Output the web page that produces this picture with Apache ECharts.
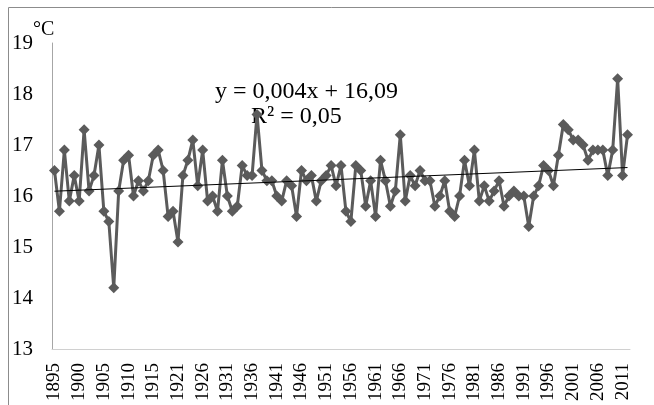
<!DOCTYPE html>
<html>
<head>
<meta charset="utf-8">
<style>
  html, body { margin: 0; padding: 0; background: #fff; }
  #chart { width: 654px; height: 405px; }
</style>
<script src="https://cdn.jsdelivr.net/npm/echarts@6/dist/echarts.min.js"></script>
</head>
<body>
<div id="chart"></div>
<script>
// one year (1916) is missing from the record
const years = [
  '1895', '1896', '1897', '1898', '1899', '1900', '1901', '1902', '1903', '1904',
  '1905', '1906', '1907', '1908', '1909', '1910', '1911', '1912', '1913', '1914',
  '1915', '1917', '1918', '1919', '1920', '1921', '1922', '1923', '1924', '1925',
  '1926', '1927', '1928', '1929', '1930', '1931', '1932', '1933', '1934', '1935',
  '1936', '1937', '1938', '1939', '1940', '1941', '1942', '1943', '1944', '1945',
  '1946', '1947', '1948', '1949', '1950', '1951', '1952', '1953', '1954', '1955',
  '1956', '1957', '1958', '1959', '1960', '1961', '1962', '1963', '1964', '1965',
  '1966', '1967', '1968', '1969', '1970', '1971', '1972', '1973', '1974', '1975',
  '1976', '1977', '1978', '1979', '1980', '1981', '1982', '1983', '1984', '1985',
  '1986', '1987', '1988', '1989', '1990', '1991', '1992', '1993', '1994', '1995',
  '1996', '1997', '1998', '1999', '2000', '2001', '2002', '2003', '2004', '2005',
  '2006', '2007', '2008', '2009', '2010', '2011', '2012'
];

const temps = [
  16.5, 15.7, 16.9, 15.9, 16.4, 15.9, 17.3, 16.1, 16.4, 17.0,
  15.7, 15.5, 14.2, 16.1, 16.7, 16.8, 16.0, 16.3, 16.1, 16.3,
  16.8, 16.9, 16.5, 15.6, 15.7, 15.1, 16.4, 16.7, 17.1, 16.2,
  16.9, 15.9, 16.0, 15.7, 16.7, 16.0, 15.7, 15.8, 16.6, 16.4,
  16.4, 17.6, 16.5, 16.3, 16.3, 16.0, 15.9, 16.3, 16.2, 15.6,
  16.5, 16.3, 16.4, 15.9, 16.3, 16.4, 16.6, 16.2, 16.6, 15.7,
  15.5, 16.6, 16.5, 15.8, 16.3, 15.6, 16.7, 16.3, 15.8, 16.1,
  17.2, 15.9, 16.4, 16.2, 16.5, 16.3, 16.3, 15.8, 16.0, 16.3,
  15.7, 15.6, 16.0, 16.7, 16.2, 16.9, 15.9, 16.2, 15.9, 16.1,
  16.3, 15.8, 16.0, 16.1, 16.0, 16.0, 15.4, 16.0, 16.2, 16.6,
  16.5, 16.2, 16.8, 17.4, 17.3, 17.1, 17.1, 17.0, 16.7, 16.9,
  16.9, 16.9, 16.4, 16.9, 18.3, 16.4, 17.2
];

// every fifth year gets a label
const labelStep = 5;

// linear trend as printed on the chart: y = 0,004x + 16,09 (x = 1..n)
const trendSlope = 0.004;
const trendIntercept = 16.09;
const trendLabel = 'y = 0,004x + 16,09';
const r2Label = 'R\u00b2 = 0,05';

const serif = 'Liberation Serif';
const grey = '#5b5b5b';

const myChart = echarts.init(document.getElementById('chart'));

const n = temps.length;
const trendStart = trendIntercept + trendSlope * 1;
const trendEnd = trendIntercept + trendSlope * n;

const option = {
  animation: false,
  grid: {
    left: 52,
    right: 24,
    top: 43,
    bottom: 56,
  },
  xAxis: {
    type: 'category',
    data: years,
    boundaryGap: true,
    axisLine: { lineStyle: { color: '#d0d0d0', width: 1 } },
    axisTick: { show: false },
    axisLabel: { show: false },
    splitLine: { show: false },
  },
  yAxis: {
    type: 'value',
    min: 13,
    max: 19,
    interval: 1,
    axisLine: { show: true, lineStyle: { color: '#a6a6a6', width: 1 } },
    axisTick: { show: false },
    axisLabel: {
      margin: 19,
      color: '#000',
      fontFamily: serif,
      fontSize: 21,
    },
    splitLine: { show: false },
  },
  series: [
    {
      type: 'line',
      data: temps,
      symbol: 'diamond',
      symbolSize: 11,
      showAllSymbol: true,
      lineStyle: { color: grey, width: 3 },
      itemStyle: { color: grey },
      markLine: {
        silent: true,
        symbol: ['none', 'none'],
        label: { show: false },
        lineStyle: { color: '#000', width: 1, type: 'solid' },
        data: [
          [
            { coord: [years[0], trendStart] },
            { coord: [years[n - 1], trendEnd] },
          ],
        ],
      },
    },
  ],
};

myChart.setOption(option);

// vertical year labels, placed on the category axis positions
const axisY = myChart.convertToPixel({ yAxisIndex: 0 }, 13);
const yearLabels = [];
years.forEach(function(year, i) {
  if (i % labelStep !== 0) return;
  const px = myChart.convertToPixel({ xAxisIndex: 0 }, i);
  yearLabels.push({
    type: 'text',
    x: px,
    y: axisY + 14,
    rotation: Math.PI / 2,
    silent: true,
    style: {
      text: year,
      font: '19px ' + serif,
      fill: '#000',
      align: 'right',
      verticalAlign: 'middle',
    },
  });
});

myChart.setOption({
  graphic: [
    {
      type: 'rect',
      shape: { x: 8.5, y: 7.5, width: 700, height: 500 },
      style: { fill: 'none', stroke: '#8c8c8c', lineWidth: 1 },
      silent: true,
    },
    {
      type: 'text',
      x: 33,
      y: 30,
      style: { text: '\u00b0C', font: '20px ' + serif, fill: '#000', verticalAlign: 'middle' },
    },
    {
      type: 'text',
      x: 215,
      y: 92,
      style: { text: trendLabel, font: '24px ' + serif, fill: '#000', verticalAlign: 'middle' },
    },
    {
      type: 'text',
      x: 251,
      y: 117,
      style: { text: r2Label, font: '24px ' + serif, fill: '#000', verticalAlign: 'middle' },
    },
  ].concat(yearLabels),
});
</script>
</body>
</html>
